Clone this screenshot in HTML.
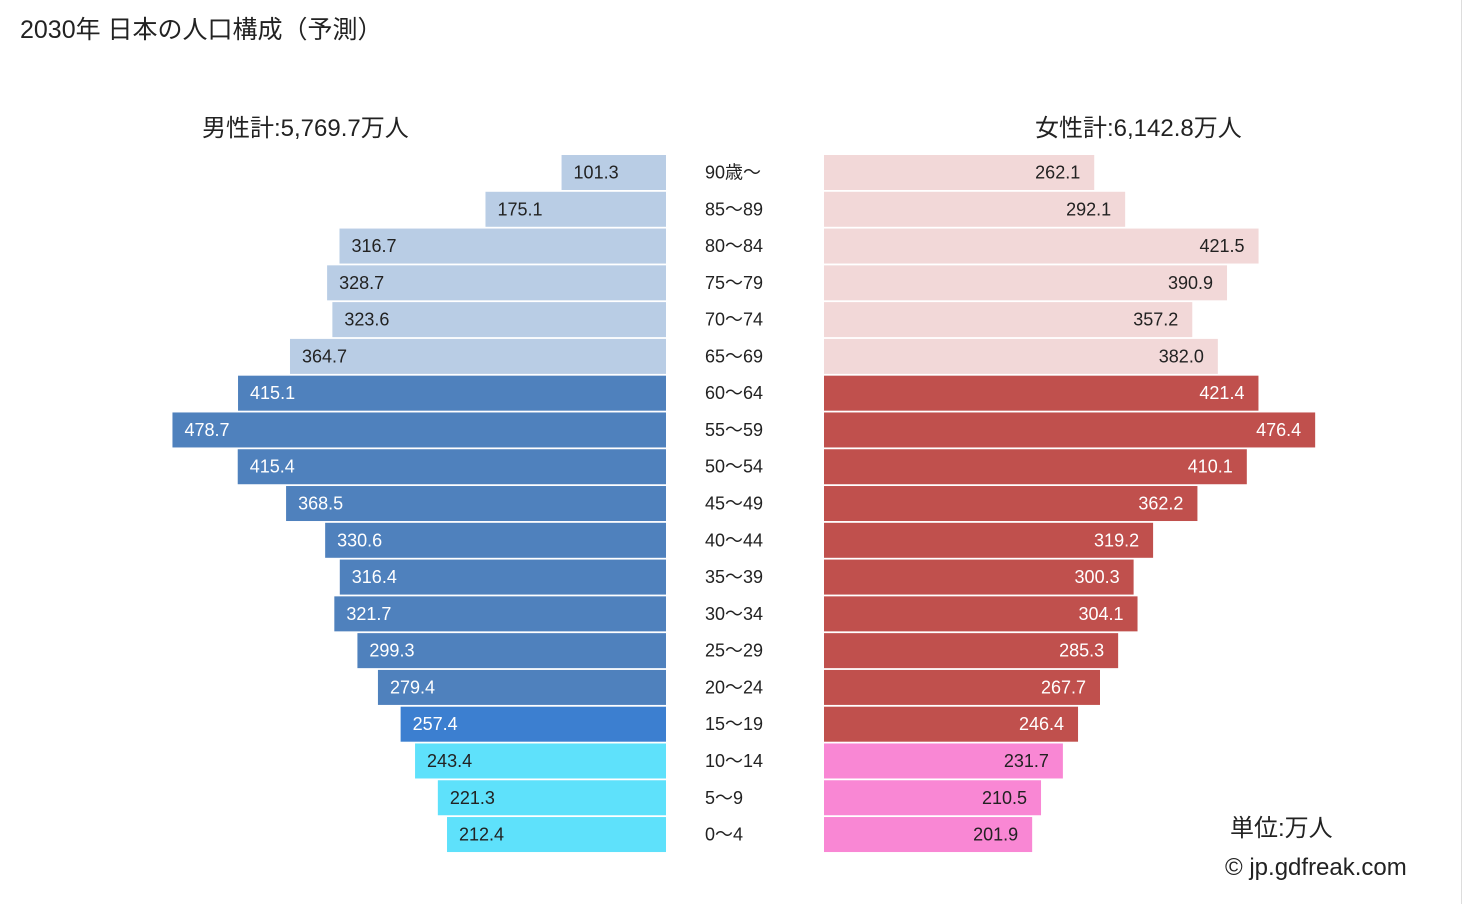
<!DOCTYPE html>
<html><head><meta charset="utf-8"><style>
body{margin:0;background:#fff;font-family:"Liberation Sans","Noto Sans CJK JP",sans-serif}
#wrap{position:relative;width:1462px;height:904px;overflow:hidden;background:#fff;border-right:1px solid #ddd;box-sizing:border-box}
.t{position:absolute;white-space:nowrap;color:#222}
</style></head><body>
<div id="wrap">
<div class="t" style="left:20px;top:10px;font-size:25px">2030年 日本の人口構成（予測）</div>
<div class="t" style="left:202px;top:108px;font-size:24px">男性計:5,769.7万人</div>
<div class="t" style="left:1035px;top:108px;font-size:24px">女性計:6,142.8万人</div>
<div class="t" style="left:1230px;top:808px;font-size:24px">単位:万人</div>
<div class="t" style="left:1225px;top:854px;font-size:24px">© jp.gdfreak.com</div>
<svg id="svg" width="1462" height="904" style="position:absolute;left:0;top:0"></svg>
</div>
<script>
const ages=["90歳～","85～89","80～84","75～79","70～74","65～69","60～64","55～59","50～54","45～49","40～44","35～39","30～34","25～29","20～24","15～19","10～14","5～9","0～4"];
const male=[101.3,175.1,316.7,328.7,323.6,364.7,415.1,478.7,415.4,368.5,330.6,316.4,321.7,299.3,279.4,257.4,243.4,221.3,212.4];
const female=[262.1,292.1,421.5,390.9,357.2,382.0,421.4,476.4,410.1,362.2,319.2,300.3,304.1,285.3,267.7,246.4,231.7,210.5,201.9];
const svg=document.getElementById('svg');const NS='http://www.w3.org/2000/svg';
const k=1.031,mx=666,fx=824,y0=155,pitch=36.78,bh=35;
const xM=v=>mx-v*k, wF=v=>v*k, yR=i=>y0+i*pitch;
function mc(i){return i<6?'#b9cde5':i<15?'#4f81bd':i===15?'#3c7fd0':'#5ee1fb';}
function fc(i){return i<6?'#f2d8d8':i<16?'#c0504d':'#f987d4';}
function tc(i,f){return (i<6||i>=16)?'#222':'#fff';}
function el(t,a,txt){const e=document.createElementNS(NS,t);for(const q in a)e.setAttribute(q,a[q]);if(txt!=null)e.textContent=txt;svg.appendChild(e);return e;}
ages.forEach((a,i)=>{
 const y=yR(i);
 const r1=el('rect',{x:xM(male[i]),y:y,width:male[i]*k,height:bh,fill:mc(i)});
 
 
 const t1=el('text',{x:xM(male[i])+12,y:y+bh/2+6,'font-size':18,fill:tc(i),'font-family':'Liberation Sans'},male[i].toFixed(1));
 
 
 const r2=el('rect',{x:fx,y:y,width:wF(female[i]),height:bh,fill:fc(i)});
 
 
 const t2=el('text',{x:fx+wF(female[i])-14,y:y+bh/2+6,'font-size':18,fill:tc(i),'text-anchor':'end','font-family':'Liberation Sans'},female[i].toFixed(1));
 
 
 const t3=el('text',{x:705,y:y+bh/2+6,'font-size':18,fill:'#222','font-family':'Liberation Sans, Noto Sans CJK JP, sans-serif'},a);
 
 
});
</script>
</body></html>
